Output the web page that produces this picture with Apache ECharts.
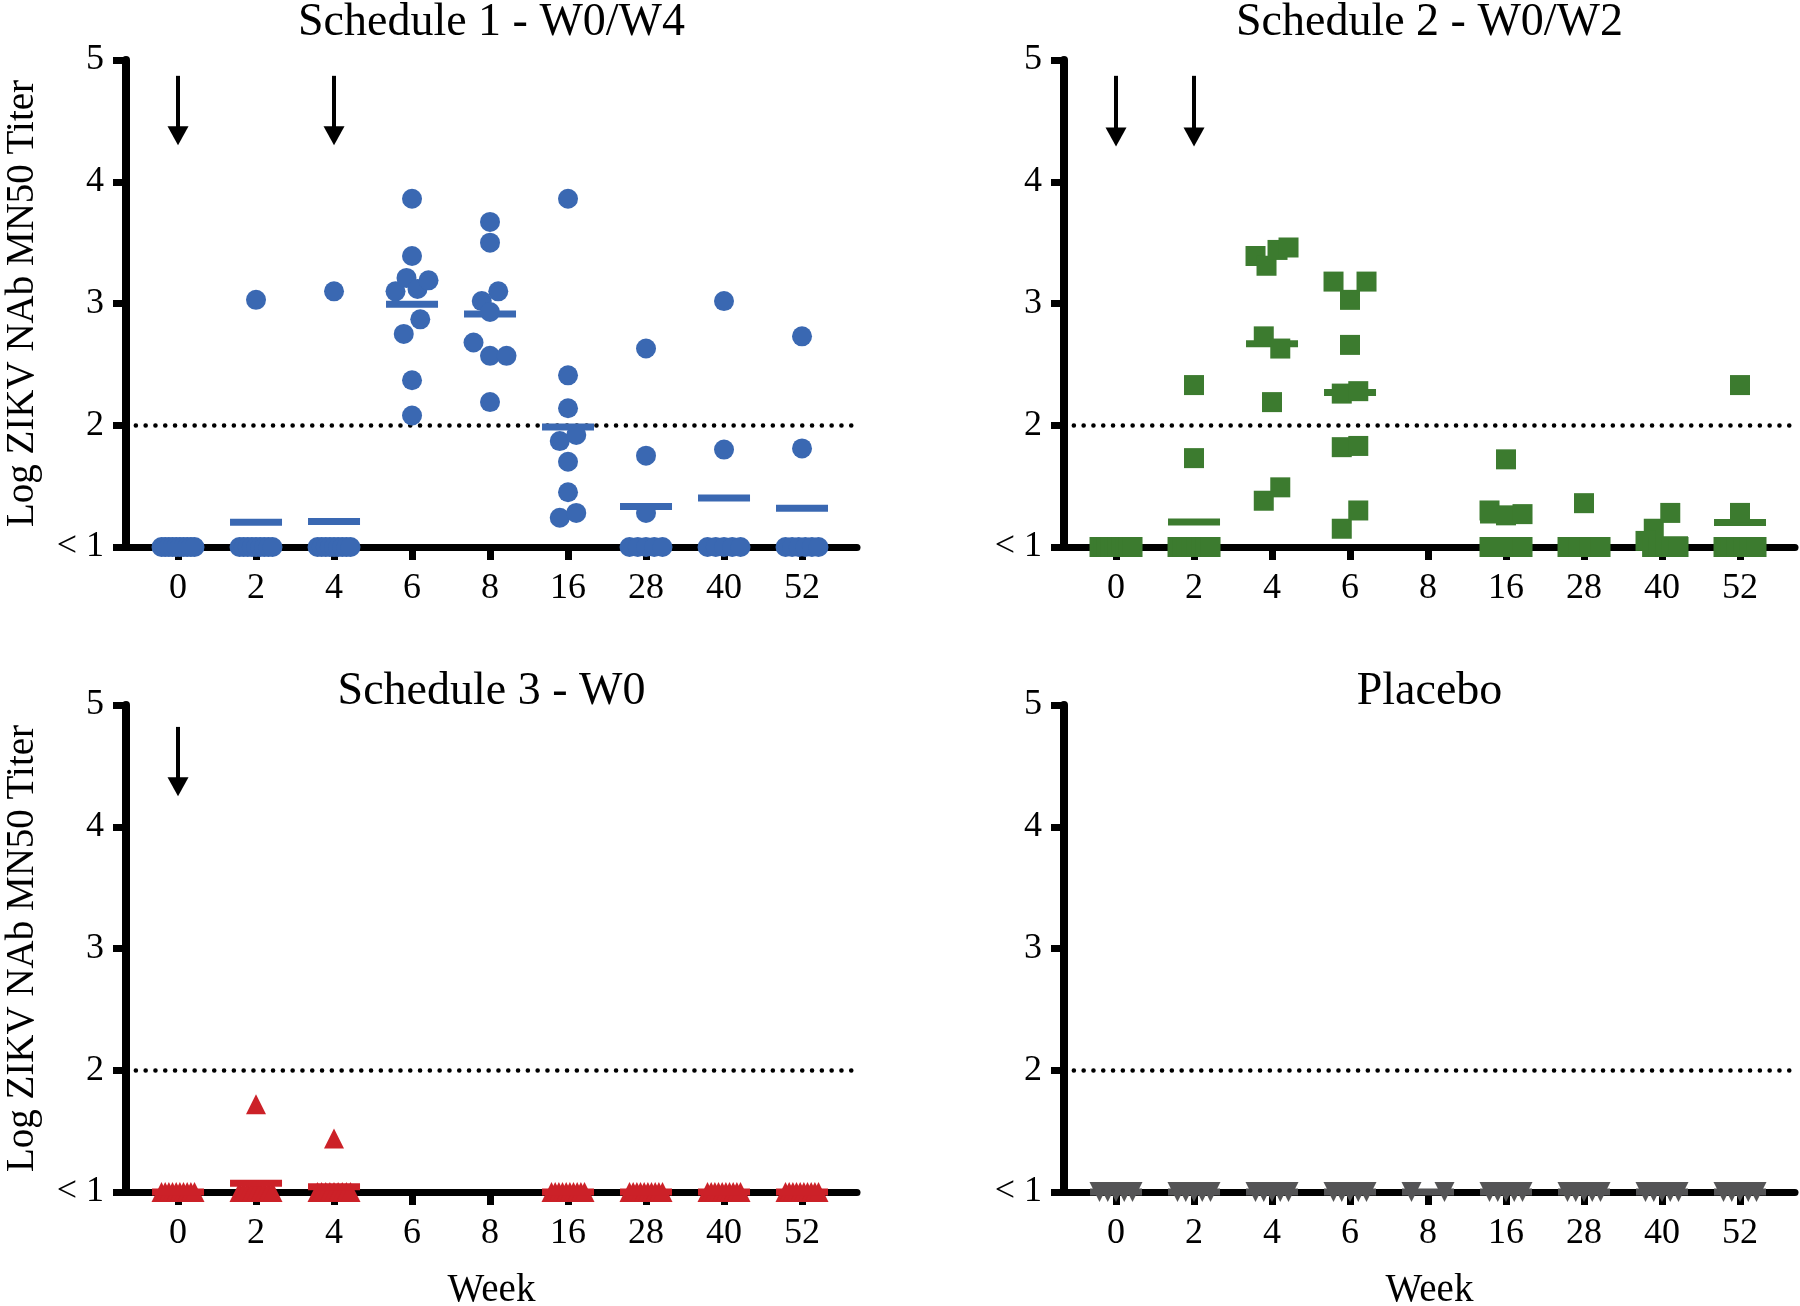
<!DOCTYPE html>
<html><head><meta charset="utf-8">
<script src="https://cdn.jsdelivr.net/npm/echarts@6/dist/echarts.min.js"></script>
<style>html,body{margin:0;padding:0;background:#fff}#c{width:1800px;height:1306px}</style>
</head><body><div id="c"></div>
<script>
// ---------------- data ----------------
const weeks = ['0','2','4','6','8','16','28','40','52'];
const yTickLabels = ['< 1','2','3','4','5'];
const titles = ['Schedule 1 - W0/W4','Schedule 2 - W0/W2','Schedule 3 - W0','Placebo'];
const yAxisTitle = 'Log ZIKV NAb MN50 Titer';
const xAxisTitle = 'Week';
const doseWeeks1 = ['0','4'];
const doseWeeks2 = ['0','2'];
const doseWeeks3 = ['0'];
const doseWeeks4 = [];
// one list of log titers per week (values "< 1" plotted at 1)
const schedule1 = [
  [1,1,1,1,1,1,1,1,1,1],
  [3.03,1,1,1,1,1,1,1,1,1],
  [3.10,1,1,1,1,1,1,1,1,1],
  [3.86,3.39,3.10,3.21,3.12,3.19,2.75,2.87,2.37,2.08],
  [3.67,3.50,3.02,3.10,2.93,2.68,2.57,2.57,2.19],
  [3.86,2.41,2.14,1.87,1.92,1.70,1.45,1.24,1.28],
  [2.63,1.75,1.28,1,1,1,1,1],
  [3.02,1.80,1,1,1,1,1],
  [2.73,1.81,1,1,1,1,1,1]
];
const schedule2 = [
  [1,1,1,1,1,1,1,1,1,1],
  [2.33,1.73,1,1,1,1,1,1,1,1],
  [3.39,3.31,3.44,3.46,2.73,2.63,2.19,1.38,1.49],
  [3.18,3.03,3.18,2.66,2.26,2.28,1.82,1.83,1.15,1.30],
  [],
  [1.72,1.30,1.26,1.27,1,1,1],
  [1.36,1,1,1,1,1,1,1],
  [1.15,1.28,1.05,1,1,1,1,1],
  [2.33,1.28,1,1,1,1,1,1]
];
const schedule3 = [
  [1,1,1,1,1,1,1,1,1,1],
  [1.72,1,1,1,1,1,1,1,1,1],
  [1.44,1,1,1,1,1,1,1,1,1],
  [],
  [],
  [1,1,1,1,1,1,1,1,1,1],
  [1,1,1,1,1,1,1,1,1,1],
  [1,1,1,1,1,1,1,1,1,1],
  [1,1,1,1,1,1,1,1,1,1]
];
const placebo = [
  [1,1,1,1,1],
  [1,1,1,1,1],
  [1,1,1,1,1],
  [1,1,1,1,1],
  [1,1],
  [1,1,1,1,1],
  [1,1,1,1,1],
  [1,1,1,1,1],
  [1,1,1,1,1]
];
const threshold = 2;
const floorValue = 1;

// ---------------- layout / style ----------------
const FONT = '"Liberation Serif", "Times New Roman", serif';
const GRID = [
  {left:126, top:60, width:731, height:487},
  {left:1064, top:60, width:731, height:487},
  {left:126, top:705, width:731, height:487},
  {left:1064, top:705, width:731, height:487}
];
const X_MIN = -0.667, X_MAX = 8.705;
const PX_PER_X = 731 / (X_MAX - X_MIN);
const COLORS = ['#3a68b2', '#3c7b2f', '#cc2128', '#545456'];
const SYMBOLS = ['circle', 'rect', 'triangle', 'triangle'];
const ROTATE = [0, 0, 0, 180];
const ARROW_TOP = [4.87, 4.87, 4.82, 4.82];
const ARROW_TIP = [4.30, 4.29, 4.25, 4.25];
const ROW_T = 0.158, MAX_STEP = 16.5, SPAN = 33;

function layoutGroup(vals) {
  const idx = vals.map((v, i) => i).sort((a, b) => vals[b] - vals[a] || a - b);
  const off = new Array(vals.length).fill(0);
  let i = 0;
  while (i < idx.length) {
    const start = vals[idx[i]];
    let j = i;
    while (j < idx.length && start - vals[idx[j]] < ROW_T) j++;
    const row = idx.slice(i, j).sort((a, b) => a - b);
    const k = row.length;
    if (k > 1) {
      const atFloor = row.every(r => vals[r] === floorValue);
      const s = atFloor ? SPAN / (k - 1) : Math.min(MAX_STEP, SPAN / (k - 1));
      row.forEach((r, n) => { off[r] = (n - (k - 1) / 2) * s; });
    }
    i = j;
  }
  return off;
}

const panels = [schedule1, schedule2, schedule3, placebo];
const doses = [doseWeeks1, doseWeeks2, doseWeeks3, doseWeeks4];

const grid = [], xAxis = [], yAxis = [], series = [];
const tickVals = weeks.map((w, i) => i);

panels.forEach((panel, p) => {
  grid.push(Object.assign({outerBoundsMode: 'none', containLabel: false}, GRID[p]));
  xAxis.push({
    gridIndex: p, type: 'value', min: X_MIN, max: X_MAX,
    axisLine: {show: true, onZero: false, lineStyle: {color: '#000', width: 7}},
    axisTick: {show: true, customValues: tickVals, length: 13, lineStyle: {color: '#000', width: 7}},
    axisLabel: {customValues: tickVals, formatter: v => weeks[Math.round(v)], fontFamily: FONT, fontSize: 36, color: '#000', margin: 24},
    splitLine: {show: false},
    name: p >= 2 ? xAxisTitle : '', nameLocation: 'middle', nameGap: 79,
    nameTextStyle: {fontFamily: FONT, fontSize: 39, color: '#000'}
  });
  yAxis.push({
    gridIndex: p, type: 'value', min: 1, max: 5, interval: 1,
    axisLine: {show: true, onZero: false, lineStyle: {color: '#000', width: 8}},
    axisTick: {show: true, length: 13, lineStyle: {color: '#000', width: 7}},
    axisLabel: {formatter: v => yTickLabels[Math.round(v) - 1], fontFamily: FONT, fontSize: 36, color: '#000', margin: 22},
    splitLine: {show: false},
    name: p % 2 === 0 ? yAxisTitle : '', nameLocation: 'middle', nameRotate: 90, nameGap: 84,
    nameTextStyle: {fontFamily: FONT, fontSize: 39, color: '#000'}
  });

  // threshold dotted line
  series.push({
    type: 'line', xAxisIndex: p, yAxisIndex: p, data: [], z: 1, silent: true,
    markLine: {
      silent: true, symbol: 'none', z: 1, label: {show: false}, animation: false,
      lineStyle: {color: '#000', width: 4.5, type: [0.1, 9.7], cap: 'round'},
      data: [{yAxis: threshold}]
    }
  });

  // individual points
  const pts = [];
  panel.forEach((vals, w) => {
    const off = layoutGroup(vals);
    vals.forEach((v, k) => pts.push([w + off[k] / PX_PER_X, v]));
  });
  const pointZ = p === 1 ? 4 : 2;
  series.push({
    type: 'scatter', xAxisIndex: p, yAxisIndex: p, data: pts, clip: false,
    symbol: SYMBOLS[p], symbolRotate: ROTATE[p], symbolSize: 20, z: pointZ,
    itemStyle: {color: COLORS[p], opacity: 1}, silent: true
  });

  // group means
  const means = [];
  panel.forEach((vals, w) => {
    if (vals.length) means.push([w, vals.reduce((a, b) => a + b, 0) / vals.length]);
  });
  series.push({
    type: 'scatter', xAxisIndex: p, yAxisIndex: p, data: means, clip: false,
    symbol: 'rect', symbolSize: [52, 7], z: 3,
    itemStyle: {color: COLORS[p], opacity: 1}, silent: true
  });

  // vaccination arrows
  if (doses[p].length) {
    series.push({
      type: 'custom', xAxisIndex: p, yAxisIndex: p, silent: true, z: 5,
      data: doses[p].map(w => [weeks.indexOf(w), ARROW_TOP[p]]),
      encode: {x: 0, y: 1},
      renderItem: (params, api) => {
        const x = api.value(0);
        const top = api.coord([x, ARROW_TOP[p]]);
        const tip = api.coord([x, ARROW_TIP[p]]);
        const hh = 19, hw = 21;
        return {type: 'group', children: [
          {type: 'line', shape: {x1: top[0], y1: top[1], x2: tip[0], y2: tip[1] - hh + 2}, style: {stroke: '#000', lineWidth: 4}},
          {type: 'polygon', shape: {points: [[tip[0] - hw / 2, tip[1] - hh], [tip[0] + hw / 2, tip[1] - hh], [tip[0], tip[1]]]}, style: {fill: '#000'}}
        ]};
      }
    });
  }
});

const TITLE_Y = [23, 23, 692, 692];
const graphic = titles.map((t, p) => ({
  type: 'text', x: GRID[p].left + GRID[p].width / 2, y: TITLE_Y[p], silent: true,
  style: {text: t, fontFamily: FONT, fontSize: 46, fill: '#000', align: 'center', verticalAlign: 'middle'}
}));

const chart = echarts.init(document.getElementById('c'), null, {renderer: 'canvas'});
chart.setOption({
  animation: false,
  backgroundColor: '#fff',
  grid, xAxis, yAxis, series, graphic
});
</script>
</body></html>
